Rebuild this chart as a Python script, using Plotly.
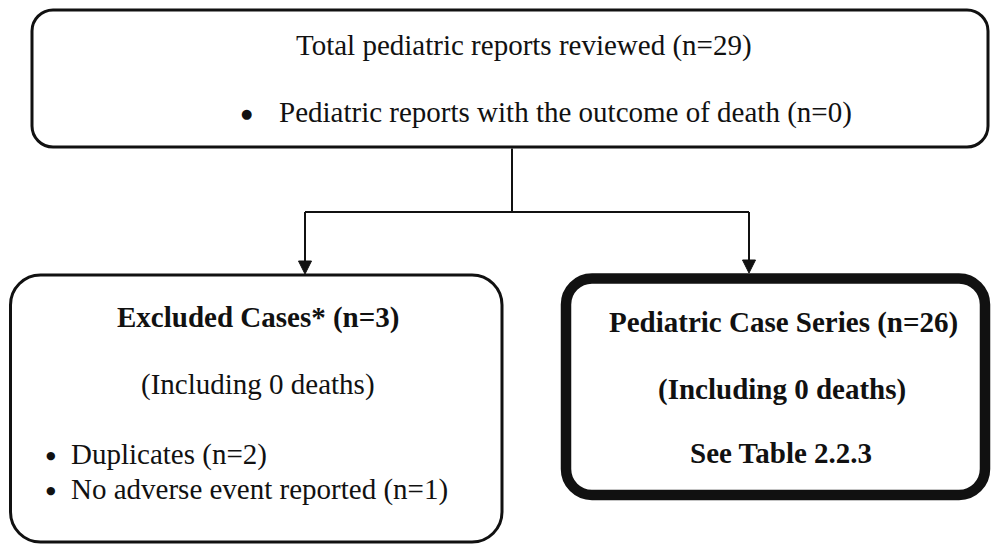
import plotly.graph_objects as go

# ---- data (text content of the flowchart) ----
total_reviewed = 29
deaths_total = 0
excluded_n = 3
excluded_deaths = 0
duplicates_n = 2
no_ae_n = 1
series_n = 26
series_deaths = 0

top_title = f"Total pediatric reports reviewed (n={total_reviewed})"
top_bullets = [f"Pediatric reports with the outcome of death (n={deaths_total})"]
excl_title = f"Excluded Cases* (n={excluded_n})"
excl_sub = f"(Including {excluded_deaths} deaths)"
excl_bullets = [f"Duplicates (n={duplicates_n})", f"No adverse event reported (n={no_ae_n})"]
series_lines = [f"Pediatric Case Series (n={series_n})",
                f"(Including {series_deaths} deaths)",
                "See Table 2.2.3"]

W, H = 991, 546
FONT = "Liberation Serif"
FS = 29
INK = "#111111"

fig = go.Figure()
# invisible trace to establish axes
fig.add_trace(go.Scatter(x=[0, W], y=[0, H], mode="markers",
                         marker=dict(opacity=0), hoverinfo="skip", showlegend=False))

K = 0.5523


def rrect(x0, y0, x1, y1, r):
    k = r * (1 - K)
    return (f"M {x0+r},{y0} L {x1-r},{y0} "
            f"C {x1-k},{y0} {x1},{y0+k} {x1},{y0+r} "
            f"L {x1},{y1-r} "
            f"C {x1},{y1-k} {x1-k},{y1} {x1-r},{y1} "
            f"L {x0+r},{y1} "
            f"C {x0+k},{y1} {x0},{y1-k} {x0},{y1-r} "
            f"L {x0},{y0+r} "
            f"C {x0},{y0+k} {x0+k},{y0} {x0+r},{y0} Z")


shapes = []
# boxes
shapes.append(dict(type="path", path=rrect(32, 10, 988, 147, 21),
                   line=dict(color=INK, width=3), fillcolor="white", layer="below"))
shapes.append(dict(type="path", path=rrect(10.5, 275, 502, 542, 30),
                   line=dict(color=INK, width=3), fillcolor="white", layer="below"))
shapes.append(dict(type="path", path=rrect(566, 278.5, 985, 495, 26),
                   line=dict(color=INK, width=10.5), fillcolor="white", layer="below"))

# connectors
lw = 2
shapes.append(dict(type="line", x0=512, y0=148.5, x1=512, y1=212, line=dict(color=INK, width=lw)))
shapes.append(dict(type="line", x0=305, y0=212, x1=749, y1=212, line=dict(color=INK, width=lw)))
shapes.append(dict(type="line", x0=305, y0=212, x1=305, y1=262, line=dict(color=INK, width=lw)))
shapes.append(dict(type="line", x0=749, y0=212, x1=749, y1=262, line=dict(color=INK, width=lw)))
for ax_, tip in ((305, 274), (749, 273)):
    shapes.append(dict(type="path", path=f"M {ax_-6.5},{tip-13} L {ax_+6.5},{tip-13} L {ax_},{tip} Z",
                       line=dict(color=INK, width=1), fillcolor=INK))

ann = []


def text(x, y, s, bold=False, anchor="center"):
    ann.append(dict(x=x, y=y, xref="x", yref="y", text=f"<b>{s}</b>" if bold else s,
                    showarrow=False, xanchor=anchor, yanchor="middle",
                    font=dict(family=FONT, size=FS, color=INK)))


def bullet(x, y, size):
    ann.append(dict(x=x, y=y, xref="x", yref="y", text="\u25CF", showarrow=False,
                    xanchor="center", yanchor="middle",
                    font=dict(family="DejaVu Sans", size=size, color=INK)))


# top box
text(524, 45, top_title)
bullet(246, 113, 13)
text(277, 112, top_bullets[0], anchor="left")

# excluded box
text(257.5, 317.5, excl_title, bold=True)
text(257.5, 384.5, excl_sub)
for yy, s in zip((454, 489), excl_bullets):
    bullet(51, yy + 1, 11)
    text(69, yy, s, anchor="left")

# case series box
for yy, xx, s in zip((322.5, 389, 452.5), (783, 782, 781), series_lines):
    text(xx, yy, s, bold=True)

fig.update_layout(
    width=W, height=H, margin=dict(l=0, r=0, t=0, b=0),
    paper_bgcolor="white", plot_bgcolor="white",
    xaxis=dict(range=[0, W], visible=False, fixedrange=True),
    yaxis=dict(range=[H, 0], visible=False, fixedrange=True),
    shapes=shapes, annotations=ann, showlegend=False,
)

fig.write_html("out.html", config={"displayModeBar": False},
               post_script="document.body.style.margin='0';")
